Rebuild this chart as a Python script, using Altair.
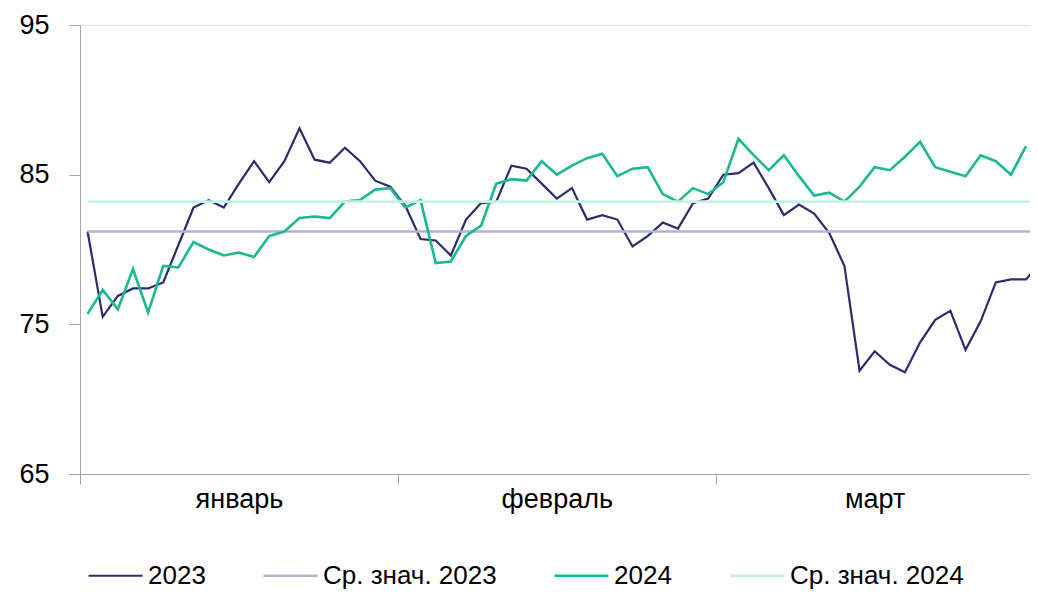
import altair as alt
import pandas as pd

months = ["январь", "февраль", "март"]
days_per_month = 21
series_names = ["2023", "Ср. знач. 2023", "2024", "Ср. знач. 2024"]
series_colors = ["#2b2c6c", "#b4b2d2", "#19ba91", "#c8f1e6"]
series_widths = [2.2, 2.8, 2.2, 2.8]

values_2023 = [
    81.2, 75.5, 76.9, 77.4, 77.4, 77.8, 80.3, 82.8, 83.3, 82.8, 84.4,
    85.9, 84.5, 85.9, 88.1, 86.0, 85.8, 86.8, 85.9, 84.6, 84.2,
    82.9, 80.7, 80.6, 79.6, 82.0, 83.1, 83.2, 85.6, 85.4, 84.4, 83.4,
    84.1, 82.0, 82.3, 82.0, 80.2, 80.9, 81.8, 81.4, 83.1, 83.4,
    85.0, 85.1, 85.8, 84.1, 82.3, 83.0, 82.4, 81.1, 78.9, 71.9, 73.2,
    72.3, 71.8, 73.8, 75.3, 75.9, 73.3, 75.2, 77.8, 78.0, 78.0, 79.2,
]
values_2024 = [
    75.7, 77.3, 76.0, 78.7, 75.8, 78.9, 78.8, 80.5, 80.0, 79.6, 79.8,
    79.5, 80.9, 81.2, 82.1, 82.2, 82.1, 83.2, 83.3, 84.0, 84.1,
    82.8, 83.3, 79.1, 79.2, 80.9, 81.6, 84.4, 84.7, 84.6, 85.9, 85.0,
    85.6, 86.1, 86.4, 84.9, 85.4, 85.5, 83.7, 83.2, 84.1, 83.7,
    84.5, 87.4, 86.3, 85.3, 86.3, 84.9, 83.6, 83.8, 83.2, 84.2, 85.5,
    85.3, 86.2, 87.2, 85.5, 85.2, 84.9, 86.3, 85.9, 85.0, 86.9,
]
avg_2023 = 81.2
avg_2024 = 83.2
y_ticks = [65, 75, 85, 95]

rows = []
for i, v in enumerate(values_2023):
    rows.append({"x": i + 0.5, "v": v, "s": series_names[0], "o": 0})
for i in range(len(values_2023)):
    rows.append({"x": i + 0.5, "v": avg_2023, "s": series_names[1], "o": 1})
for i, v in enumerate(values_2024):
    rows.append({"x": i + 0.5, "v": v, "s": series_names[2], "o": 2})
for i in range(len(values_2023)):
    rows.append({"x": i + 0.5, "v": avg_2024, "s": series_names[3], "o": 3})
df = pd.DataFrame(rows)

n_months = len(months)
boundaries = [k * days_per_month for k in range(n_months)]
centers = [k * days_per_month + days_per_month / 2 for k in range(n_months)]
label_expr = " : ".join(
    f"datum.value == {c} ? '{m}'" for c, m in zip(centers, months)
) + " : ''"
axis_values = sorted(boundaries + centers)

FONT = "Liberation Sans"
GREY = "#a6a6a6"

chart = (
    alt.Chart(df)
    .mark_line(clip=True)
    .encode(
        x=alt.X(
            "x:Q",
            scale=alt.Scale(domain=[0, 62.76], nice=False, zero=False),
            axis=alt.Axis(
                values=axis_values,
                labelExpr=label_expr,
                tickColor={
                    "condition": {"test": f"datum.value % {days_per_month} == 0", "value": GREY},
                    "value": "rgba(0,0,0,0)",
                },
                tickSize=10,
                domainColor=GREY,
                grid=False,
                title=None,
                labelFont=FONT,
                labelFontSize=27,
                labelColor="black",
                labelPadding=2,
                labelFlush=False,
                labelOverlap=False,
            ),
        ),
        y=alt.Y(
            "v:Q",
            scale=alt.Scale(domain=[65, 95], nice=False, zero=False),
            axis=alt.Axis(
                values=y_ticks,
                tickSize=11,
                tickColor=GREY,
                domainColor=GREY,
                grid=False,
                title=None,
                labelFont=FONT,
                labelFontSize=27,
                labelColor="black",
                labelPadding=20,
            ),
        ),
        color=alt.Color(
            "s:N",
            scale=alt.Scale(domain=series_names, range=series_colors),
            legend=alt.Legend(
                orient="none",
                legendX=7,
                legendY=522,
                direction="horizontal",
                title=None,
                symbolType="stroke",
                symbolSize=2916,
                symbolStrokeWidth=2.5,
                labelFont=FONT,
                labelFontSize=26,
                labelColor="black",
                labelOffset=4,
                labelLimit=400,
                columnPadding=52,
            ),
        ),
        strokeWidth=alt.StrokeWidth(
            "s:N",
            scale=alt.Scale(domain=series_names, range=series_widths),
            legend=None,
        ),
        order=alt.Order("x:Q"),
        detail="o:O",
    )
    .properties(
        width=950,
        height=449,
        autosize=alt.AutoSizeParams(type="none"),
        padding={"left": 72, "top": 17, "right": 0, "bottom": 118},
    )
    .configure_view(stroke=None)
    .configure(background="white")
)

chart.save("out.html", embed_options={"renderer": "svg", "actions": False})
